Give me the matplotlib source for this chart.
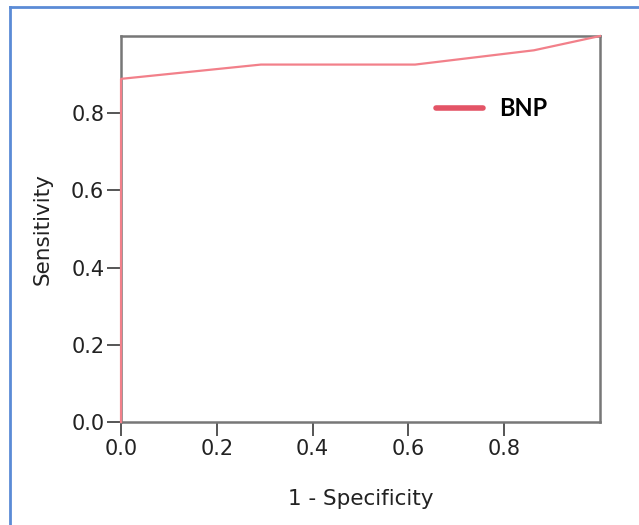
import matplotlib.pyplot as plt
from matplotlib.lines import Line2D

# ROC points
fpr = [0.0, 0.0, 0.292, 0.614, 0.862, 1.0]
tpr = [0.0, 0.889, 0.926, 0.926, 0.963, 1.0]
ticks = [0.0, 0.2, 0.4, 0.6, 0.8]
series_name = "BNP"

fig = plt.figure(figsize=(6.39, 5.25), dpi=100)
ax = fig.add_axes([0.1894, 0.1962, 0.7496, 0.7352])

ax.plot(fpr, tpr, color='#f2808a', lw=1.6, clip_on=False, zorder=3)

ax.set_xlim(0, 1)
ax.set_ylim(0, 1)
ax.set_xticks(ticks)
ax.set_yticks(ticks)
ax.set_xticklabels([f"{t:.1f}" for t in ticks], fontsize=15, family='DejaVu Sans', color='#222222')
ax.set_yticklabels([f"{t:.1f}" for t in ticks], fontsize=15, family='DejaVu Sans', color='#222222')
ax.tick_params(length=10, width=1.4, color='#555555', pad=2)

for s in ax.spines.values():
    s.set_color('#777777')
    s.set_linewidth(1.8)

ax.set_xlabel("1 - Specificity", fontsize=15.5, family='DejaVu Sans', labelpad=22, color='#222222')
ax.set_ylabel("Sensitivity", fontsize=15.5, family='DejaVu Sans', labelpad=13, color='#222222')

handle = Line2D([], [], color='#e35466', lw=4, solid_capstyle='round')
leg = ax.legend([handle], [series_name], loc='upper right', bbox_to_anchor=(0.935, 0.896),
                frameon=False, handlelength=2.0, handletextpad=0.7,
                prop={'family': 'Lato', 'weight': 'bold', 'size': 17})

# blue frame around the figure (left and top edges visible)
fig.add_artist(Line2D([10 / 639, 10 / 639], [0, 1 - 7 / 525], transform=fig.transFigure,
                      color='#5b8bd6', lw=2))
fig.add_artist(Line2D([10 / 639, 1], [1 - 7 / 525, 1 - 7 / 525], transform=fig.transFigure,
                      color='#5b8bd6', lw=2))

fig.savefig("out.png", dpi=100)
